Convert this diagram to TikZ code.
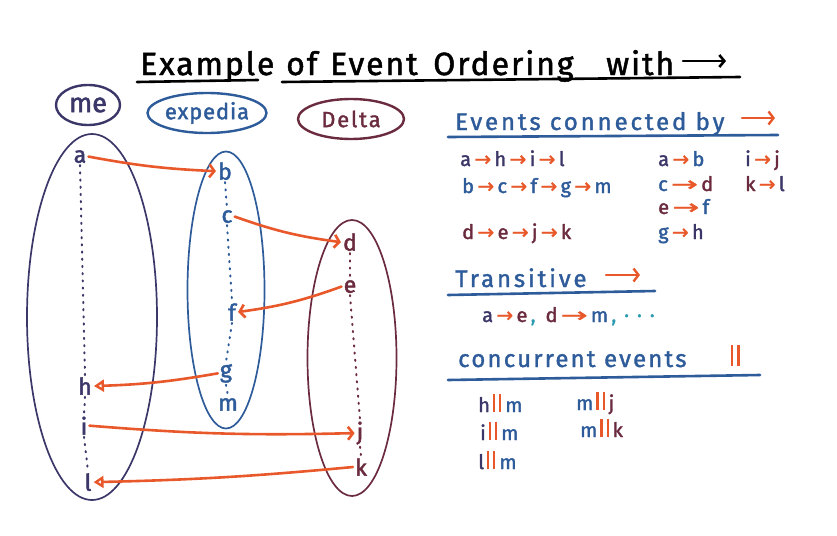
\documentclass[tikz,border=0pt]{standalone}
\usepackage{fontspec}
\setmainfont{Fira Sans}
\newfontfamily\arrfont{DejaVu Sans}
\usetikzlibrary{arrows.meta,shapes.geometric}
\definecolor{meC}{HTML}{3B3768}
\definecolor{exC}{HTML}{2E5B99}
\definecolor{deC}{HTML}{6B2B3F}
\definecolor{orC}{HTML}{E8582A}
\definecolor{tlC}{HTML}{2A9BB0}
\newcommand{\oar}{{\color{orC}\arrfont\addfontfeature{FakeBold=1.5}\,→\,}}
\newcommand{\olar}{{\color{orC}\arrfont\addfontfeature{FakeBold=1.5}\,\scalebox{1.6}[1]{→}\,}}
\newcommand{\opar}{{\color{orC}\hspace{3pt}\rule{2.2pt}{1.7ex}\hspace{4pt}\rule{2.2pt}{1.7ex}\hspace{4pt}}}
\begin{document}
\begin{tikzpicture}[x=1pt,y=-1pt,
  titletxt/.style={anchor=base west,inner sep=0pt,font=\fontsize{32}{36}\selectfont\addfontfeature{LetterSpace=6,FakeBold=1.5}},
  bubble/.style={draw,ellipse,line width=2.4pt,inner sep=0pt},
  container/.style={draw,ellipse,line width=1.7pt,inner sep=0pt},
  evt/.style={inner sep=2pt,font=\fontsize{23}{25}\selectfont\addfontfeature{FakeBold=2},anchor=mid},
  evdots/.style={line width=2pt,line cap=round,dash pattern=on 1.2pt off 6pt},
  oarrow/.style={orC,line width=2.6pt,line cap=round,-{Straight Barb[length=5pt,width=13pt]}},
  otri/.style={orC,line width=2.6pt,line cap=round,-{Triangle[open,length=10pt,width=12pt,line width=2.4pt]}},
  rtxt/.style={anchor=base west,inner sep=0pt,font=\fontsize{20}{22}\selectfont\addfontfeature{LetterSpace=4,FakeBold=1.8}},
  htxt/.style={anchor=base west,inner sep=0pt,exC,font=\fontsize{24}{26}\selectfont\addfontfeature{LetterSpace=12,FakeBold=1.5}},
  uline/.style={line width=2.6pt,line cap=round}
]
\useasboundingbox (0,0) rectangle (837,535);
% ---------- title ----------
\node[titletxt] (t1) at (140,75) {Example};
\node[titletxt] (t2) at (286,75) {of};
\node[titletxt] (t3) at (330,75) {Event};
\node[titletxt] (t4) at (433,75) {Ordering};
\node[titletxt] (t5) at (606,75) {with};
\coordinate (tarA) at (683,61);
\coordinate (tarB) at (726,61);
\draw[line width=2.6pt,line cap=round,-{Straight Barb[length=5pt,width=12pt]}] (tarA) -- (tarB);
\coordinate (u1a) at (137,82); \coordinate (u1b) at (258,80);
\coordinate (u2a) at (282,82); \coordinate (u2b) at (740,77);
\draw[uline] (u1a) -- (u1b);
\draw[uline] (u2a) -- (u2b);
% ---------- process bubbles ----------
\node[bubble,meC,minimum width=64pt,minimum height=40pt,font=\fontsize{27}{28}\selectfont\addfontfeature{FakeBold=2}] (me) at (88,105) {me};
\node[bubble,exC,minimum width=114pt,minimum height=40pt,font=\fontsize{22}{24}\selectfont\addfontfeature{LetterSpace=4,FakeBold=1.8}] (ex) at (207,113) {expedia};
\node[bubble,deC,minimum width=106pt,minimum height=40pt,font=\fontsize{22}{24}\selectfont\addfontfeature{LetterSpace=8,FakeBold=1.5}] (de) at (351,119) {Delta};
% ---------- containers ----------
\node[container,meC,minimum width=130pt,minimum height=366pt] (meE) at (92,317) {};
\node[container,exC,minimum width=77pt,minimum height=277pt] (exE) at (226,290) {};
\node[container,deC,minimum width=89pt,minimum height=276pt] (deE) at (352,358) {};
% ---------- events ----------
\node[evt,meC] (a) at (80,160) {a};
\node[evt,meC] (h) at (85,392) {h};
\node[evt,meC] (i) at (84,432) {i};
\node[evt,meC] (l) at (88,488) {l};
\node[evt,exC] (b) at (225,177) {b};
\node[evt,exC] (c) at (227,220) {c};
\node[evt,exC] (f) at (232,318) {f};
\node[evt,exC] (g) at (226,375) {g};
\node[evt,exC] (m) at (228,408) {m};
\node[evt,deC] (d) at (350,248) {d};
\node[evt,deC] (e) at (350,290) {e};
\node[evt,deC] (j) at (360,437) {j};
\node[evt,deC] (k) at (361,473) {k};
% dotted timelines
\draw[evdots,meC] (a.south) -- (h.north);
\draw[evdots,meC] (h.south) -- (i.north);
\draw[evdots,meC] (i.south) -- (l.north);
\draw[evdots,exC] (b.south) -- (c.north);
\draw[evdots,exC] (c.south) -- (f.north);
\draw[evdots,exC] (f.south) -- (g.north);
\draw[evdots,exC] (g.south) -- (m.north);
\draw[evdots,deC] (d.south) -- (e.north);
\draw[evdots,deC] (e.south) -- (j.north);
\draw[evdots,deC] (j.south) -- (k.north);
% messages
\draw[oarrow] (a.east) to[bend right=4] (b.west);
\draw[oarrow] (c.east) to[bend right=6] (d.west);
\draw[oarrow] (e.west) to[bend left=6] (f.east);
\draw[otri] (g.west) to[bend left=4] (h.east);
\draw[oarrow] (i.east) to[bend right=3] (j.west);
\draw[otri] (k.west) to[bend left=2] (l.east);
% ---------- right panel: events connected by ----------
\node[htxt] (h1) at (455,130) {Events connected by};
\coordinate (h1aA) at (742,118); \coordinate (h1aB) at (775,118);
\draw[oarrow,line width=2.4pt] (h1aA) -- (h1aB);
\coordinate (h1uA) at (448,137); \coordinate (h1uB) at (778,135);
\draw[uline,exC] (h1uA) -- (h1uB);
\node[rtxt] (r1) at (460,166) {\color{meC}a\oar h\oar i\oar l};
\node[rtxt] (r2) at (462,193) {\color{exC}b\oar c\oar f\oar g\oar m};
\node[rtxt] (r3) at (462,239) {\color{deC}d\oar e\oar j\oar k};
\node[rtxt] (r4) at (658,166) {\textcolor{meC}{a}\oar\textcolor{exC}{b}};
\node[rtxt] (r5) at (658,191) {\textcolor{exC}{c}\olar\textcolor{deC}{d}};
\node[rtxt] (r6) at (658,214) {\textcolor{deC}{e}\olar\textcolor{exC}{f}};
\node[rtxt] (r7) at (658,239) {\textcolor{exC}{g}\oar\textcolor{meC}{h}};
\node[rtxt] (r8) at (745,166) {\textcolor{meC}{i}\oar\textcolor{deC}{j}};
\node[rtxt] (r9) at (745,191) {\textcolor{deC}{k}\oar\textcolor{meC}{l}};
% ---------- transitive ----------
\node[htxt] (h2) at (455,287) {Transitive};
\coordinate (h2aA) at (606,275); \coordinate (h2aB) at (640,275);
\draw[oarrow,line width=2.4pt] (h2aA) -- (h2aB);
\coordinate (h2uA) at (448,295); \coordinate (h2uB) at (655,291);
\draw[uline,exC] (h2uA) -- (h2uB);
\node[rtxt] (tr) at (482,322) {\textcolor{meC}{a}\oar\textcolor{deC}{e}\textcolor{tlC}{\,,}\hspace{10pt}\textcolor{deC}{d}\olar\textcolor{exC}{m}\textcolor{tlC}{\,,\hspace{8pt}·\hspace{8pt}·\hspace{8pt}·}};
% ---------- concurrent ----------
\node[htxt,font=\fontsize{24}{26}\selectfont\addfontfeature{LetterSpace=9,FakeBold=1.5}] (h3) at (458,367) {concurrent events};
\node[rtxt,font=\fontsize{23}{26}\selectfont] (h3b) at (728,366) {\opar};
\coordinate (h3uA) at (448,380); \coordinate (h3uB) at (760,375);
\draw[uline,exC] (h3uA) -- (h3uB);
\node[rtxt] (c1) at (478,412) {\textcolor{meC}{h}\opar\textcolor{exC}{m}};
\node[rtxt] (c2) at (480,440) {\textcolor{meC}{i}\opar\textcolor{exC}{m}};
\node[rtxt] (c3) at (478,469) {\textcolor{meC}{l}\opar\textcolor{exC}{m}};
\node[rtxt] (c4) at (576,410) {\textcolor{exC}{m}\opar\textcolor{deC}{j}};
\node[rtxt] (c5) at (580,437) {\textcolor{exC}{m}\opar\textcolor{deC}{k}};
\end{tikzpicture}
\end{document}
